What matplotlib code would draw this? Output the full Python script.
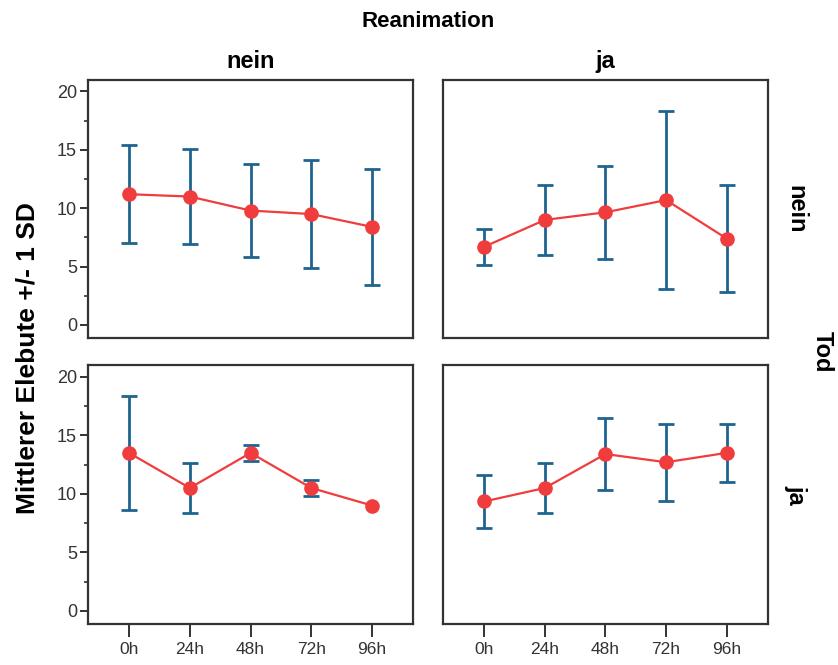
import matplotlib.pyplot as plt
import numpy as np

plt.rcParams['font.family'] = ['Liberation Sans', 'DejaVu Sans']

# Zeitpunkte
zeitpunkte = ['0h', '24h', '48h', '72h', '96h']

# Mittelwerte und Standardabweichungen je Gruppe (Tod x Reanimation)
mw_tod_nein_rea_nein = [11.2, 11.0, 9.8, 9.5, 8.4]
sd_tod_nein_rea_nein = [4.2, 4.1, 4.0, 4.65, 5.0]

mw_tod_nein_rea_ja = [6.7, 9.0, 9.65, 10.7, 7.4]
sd_tod_nein_rea_ja = [1.55, 3.0, 4.0, 7.6, 4.6]

mw_tod_ja_rea_nein = [13.5, 10.5, 13.5, 10.5, 9.0]
sd_tod_ja_rea_nein = [4.9, 2.15, 0.7, 0.7, 0.0]

mw_tod_ja_rea_ja = [9.35, 10.5, 13.4, 12.7, 13.5]
sd_tod_ja_rea_ja = [2.3, 2.1, 3.05, 3.3, 2.5]

spalten = ['nein', 'ja']   # Reanimation
zeilen = ['nein', 'ja']    # Tod

bar_color = '#1f6390'
line_color = '#f03c3c'
frame_color = '#333333'

fig = plt.figure(figsize=(8.38, 6.65), dpi=100)

# [left, bottom, width, height] in Figurkoordinaten
pos = {
    (0, 0): [0.105, 0.492, 0.388, 0.388],
    (0, 1): [0.529, 0.492, 0.387, 0.388],
    (1, 0): [0.105, 0.062, 0.388, 0.389],
    (1, 1): [0.529, 0.062, 0.387, 0.389],
}
daten = {
    (0, 0): (mw_tod_nein_rea_nein, sd_tod_nein_rea_nein),
    (0, 1): (mw_tod_nein_rea_ja, sd_tod_nein_rea_ja),
    (1, 0): (mw_tod_ja_rea_nein, sd_tod_ja_rea_nein),
    (1, 1): (mw_tod_ja_rea_ja, sd_tod_ja_rea_ja),
}

x = np.arange(len(zeitpunkte))

for (r, c), rect in pos.items():
    ax = fig.add_axes(rect)
    mw = np.array(daten[(r, c)][0])
    sd = np.array(daten[(r, c)][1])
    m = sd > 0  # ohne Streuung kein Fehlerbalken
    ax.errorbar(x[m], mw[m], yerr=sd[m], fmt='none', ecolor=bar_color, elinewidth=2.0,
                capsize=5.5, capthick=2.0, zorder=2)
    ax.plot(x, mw, color=line_color, lw=1.6, marker='o', ms=9.5,
            markerfacecolor=line_color, markeredgecolor=line_color, zorder=3)

    ax.set_xlim(-0.675, 4.675)
    ax.set_ylim(-1.1, 21.0)
    ax.set_yticks([0, 5, 10, 15, 20])
    ax.set_yticks([2.5, 7.5, 12.5, 17.5], minor=True)
    ax.set_xticks(x)
    ax.set_xticklabels(zeitpunkte)

    for sp in ax.spines.values():
        sp.set_color(frame_color)
        sp.set_linewidth(1.6)

    ax.tick_params(axis='y', which='major', direction='out', length=6, width=1.4,
                   color=frame_color, labelsize=13, labelcolor='#333333', pad=2)
    ax.tick_params(axis='y', which='minor', direction='out', length=3, width=1.2,
                   color=frame_color)
    ax.tick_params(axis='x', direction='out', length=9, width=1.4, color=frame_color,
                   labelsize=12.5, labelcolor='#333333', pad=4)

    if c == 1:
        ax.tick_params(axis='y', which='both', left=False, labelleft=False)
    if r == 0:
        ax.tick_params(axis='x', which='both', bottom=False, labelbottom=False)
        ax.text(0.5, 1.07, spalten[c], transform=ax.transAxes, ha='center', va='center',
                fontsize=17, fontweight='bold')
    if c == 1:
        ax.text(1.086, 0.5, zeilen[r], transform=ax.transAxes, ha='center', va='center',
                rotation=-90, fontsize=17, fontweight='bold')

fig.text(0.511, 0.967, 'Reanimation', ha='center', va='center', fontsize=16, fontweight='bold')
fig.text(0.981, 0.471, 'Tod', ha='center', va='center', rotation=-90, fontsize=17,
         fontweight='bold')
fig.text(0.033, 0.462, 'Mittlerer Elebute +/- 1 SD', ha='center', va='center', rotation=90,
         fontsize=19, fontweight='bold')

fig.savefig('out.png', dpi=100, facecolor='white')
